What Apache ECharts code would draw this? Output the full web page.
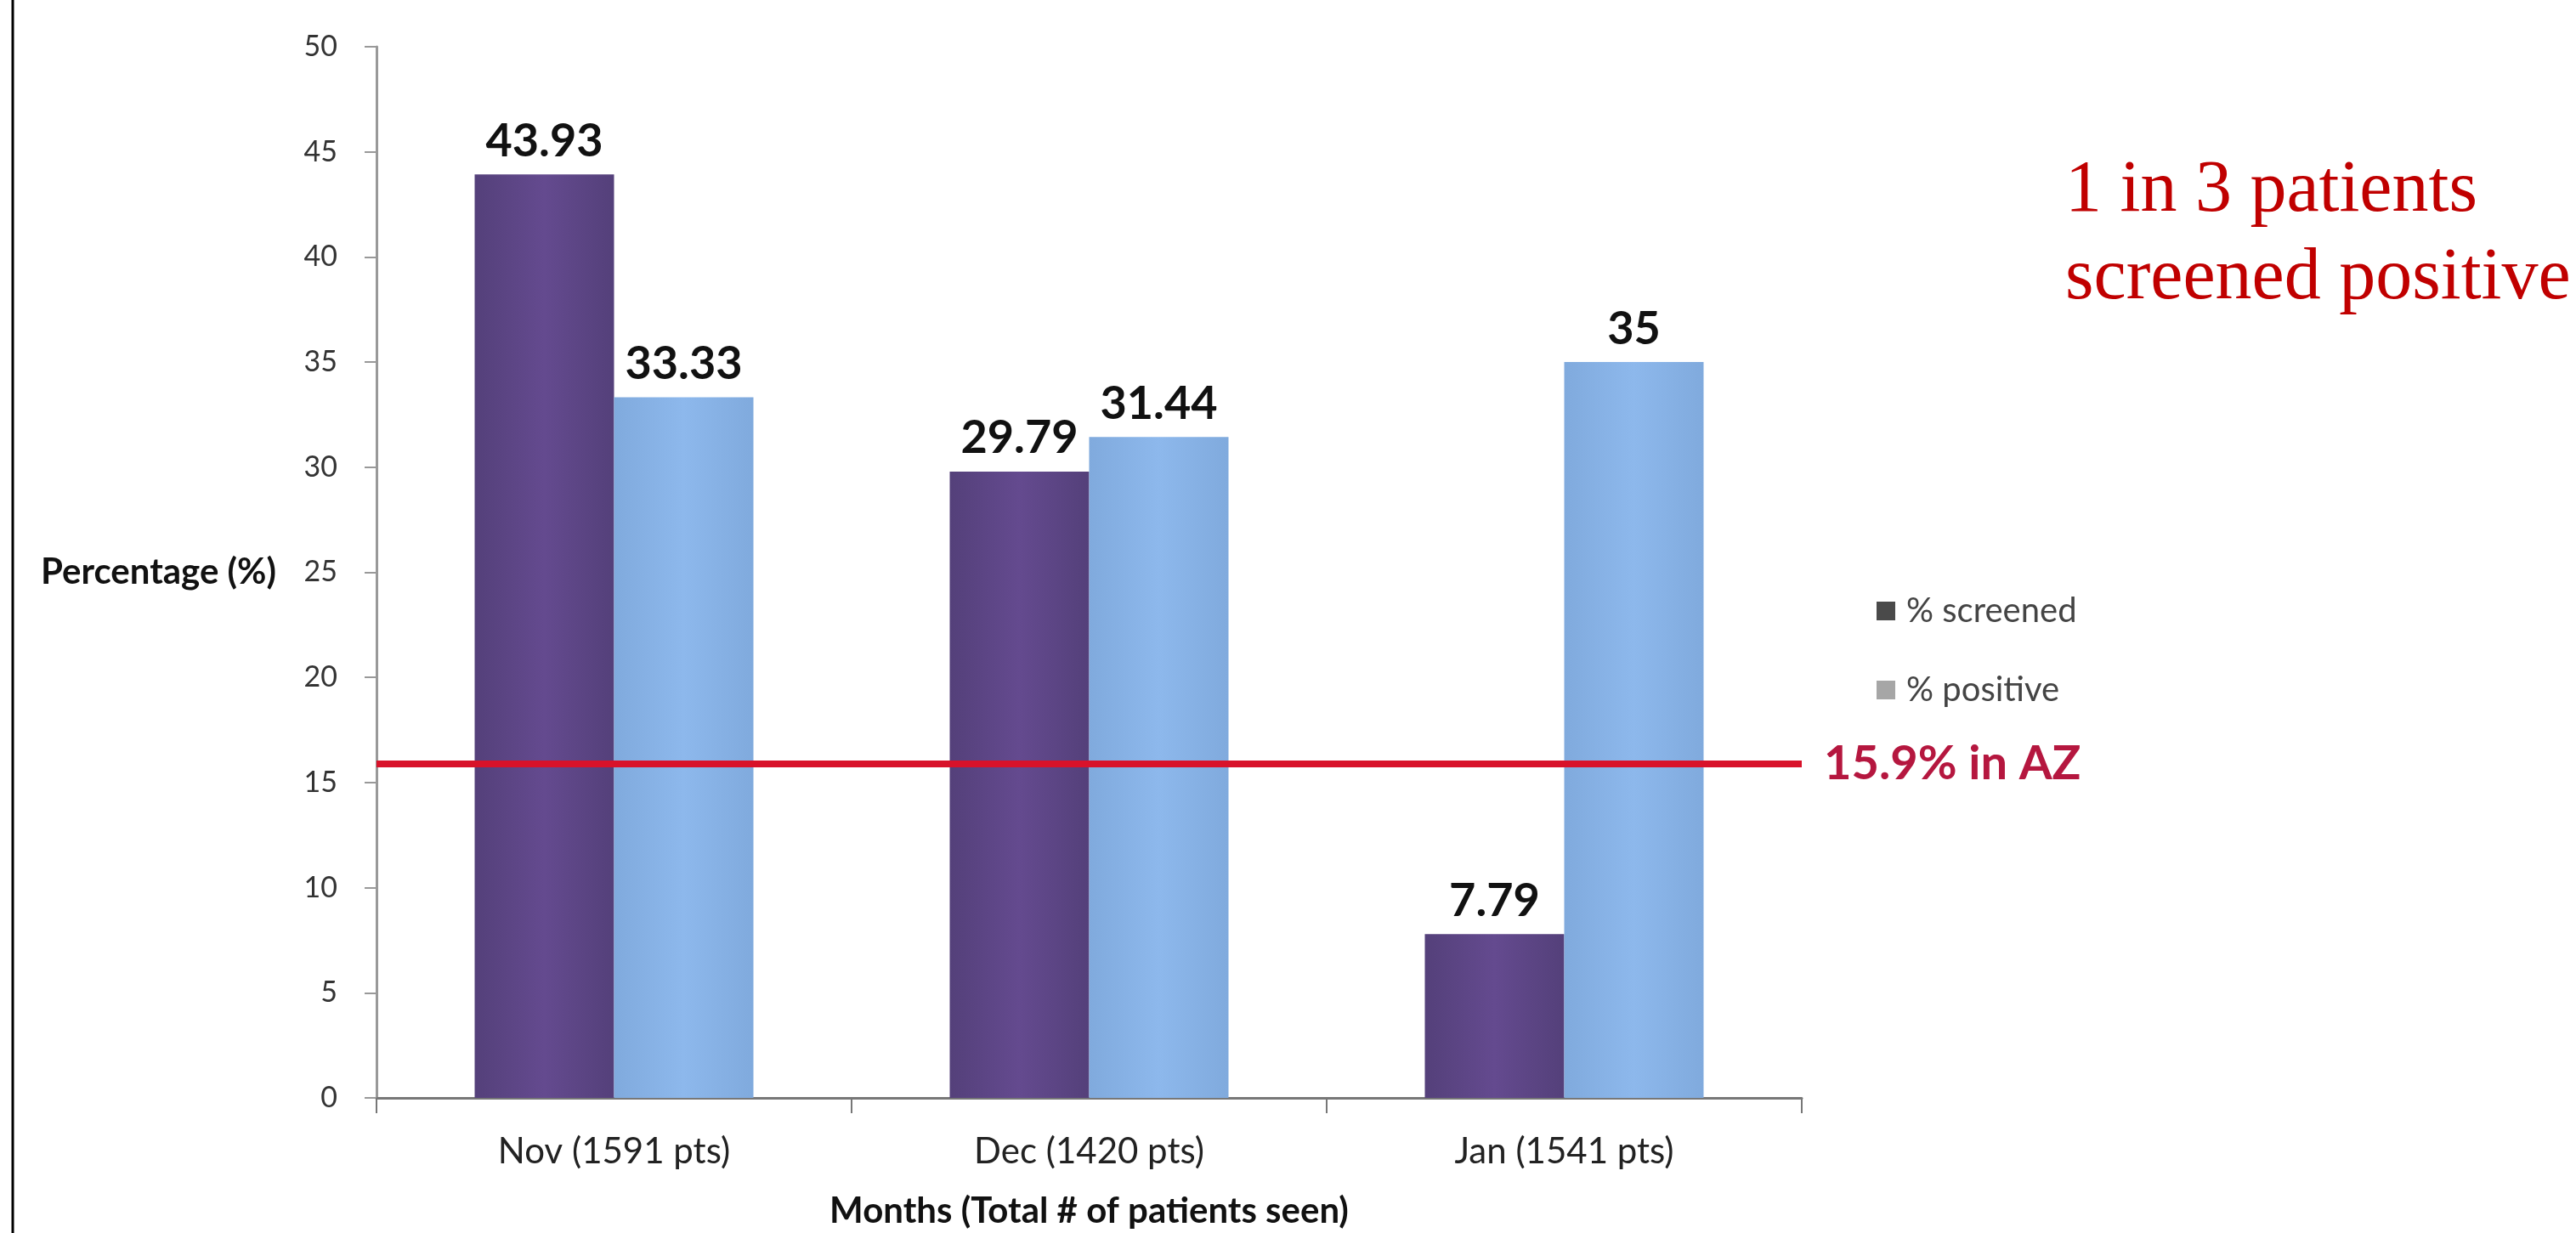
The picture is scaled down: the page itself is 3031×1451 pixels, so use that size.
<!DOCTYPE html>
<html><head><meta charset="utf-8">
<script src="https://cdn.jsdelivr.net/npm/echarts@6/dist/echarts.min.js"></script>
<style>html,body{margin:0;padding:0;background:#fff}#c{width:3031px;height:1451px}</style>
</head><body><div id="c"></div>
<script>
// ---- data ----
const categories = ['Nov (1591 pts)', 'Dec (1420 pts)', 'Jan (1541 pts)'];
const screenedValues = [43.93, 29.79, 7.79];
const positiveValues = [33.33, 31.44, 35];
const seriesNames = ['% screened', '% positive'];
const azRate = 15.9;
const azLabel = '15.9% in AZ';
const yMin = 0, yMax = 50, yInterval = 5;
const yAxisName = 'Percentage (%)';
const xAxisName = 'Months (Total # of patients seen)';
const noteLines = ['1 in 3 patients', 'screened positive'];

const FONT = "Lato, 'Carlito', 'Noto Sans', sans-serif";
const chart = echarts.init(document.getElementById('c'), null, {renderer: 'canvas'});

function grad(edge, mid) {
  return {type: 'linear', x: 0, y: 0, x2: 1, y2: 0,
    colorStops: [{offset: 0, color: edge}, {offset: 0.5, color: mid}, {offset: 1, color: edge}]};
}
const labelStyle = {show: true, position: 'top', distance: 12, color: '#111',
  fontFamily: FONT, fontWeight: 'bold', fontSize: 54};

chart.setOption({
  backgroundColor: '#ffffff',
  animation: false,
  grid: {left: 443, top: 55, width: 1677, height: 1240, containLabel: false},
  legend: {
    orient: 'vertical', left: 2203, top: 694, itemWidth: 22, itemHeight: 22, itemGap: 53,
    icon: 'rect',
    textStyle: {fontFamily: FONT, fontSize: 40, color: '#444', padding: [0, 0, 0, 8]},
    data: [
      {name: seriesNames[0], itemStyle: {color: '#4a4a4a'}},
      {name: seriesNames[1], itemStyle: {color: '#a6a6a6'}}
    ]
  },
  xAxis: {
    type: 'category', data: categories,
    axisLine: {show: true, lineStyle: {color: '#777', width: 3}},
    axisTick: {show: true, alignWithLabel: false, length: 18, lineStyle: {color: '#777', width: 2}},
    axisLabel: {fontFamily: FONT, fontSize: 42, color: '#222', margin: 42},
    name: xAxisName, nameLocation: 'middle', nameGap: 112,
    nameTextStyle: {fontFamily: FONT, fontSize: 42, fontWeight: 'bold', color: '#111'}
  },
  yAxis: {
    type: 'value', min: yMin, max: yMax, interval: yInterval,
    axisLine: {show: true, lineStyle: {color: '#999', width: 3}},
    axisTick: {show: true, length: 14, lineStyle: {color: '#999', width: 2}},
    splitLine: {show: false},
    axisLabel: {fontFamily: FONT, fontSize: 34, color: '#333', margin: 46},
    name: yAxisName, nameLocation: 'middle', nameRotate: 0, nameGap: 118,
    nameTextStyle: {fontFamily: FONT, fontSize: 42, fontWeight: 'bold', color: '#111',
      align: 'right', verticalAlign: 'middle', padding: [0, 0, 36, 0]}
  },
  series: [
    {
      name: seriesNames[0], type: 'bar', data: screenedValues,
      barWidth: 164, barGap: '0%',
      itemStyle: {color: grad('#54407a', '#644a8f')},
      label: labelStyle,
      markLine: {
        silent: true, symbol: ['none', 'none'],
        lineStyle: {color: '#d8122a', width: 8, type: 'solid'},
        label: {show: true, position: 'end', distance: 26, formatter: azLabel,
          fontFamily: FONT, fontWeight: 'bold', fontSize: 56, color: '#b5173f'},
        data: [{yAxis: azRate}]
      },
      z: 2
    },
    {
      name: seriesNames[1], type: 'bar', data: positiveValues,
      barWidth: 164, barGap: '0%',
      itemStyle: {color: grad('#80aadd', '#8db8ec')},
      label: labelStyle,
      z: 2
    }
  ],
  graphic: [
    {type: 'line', shape: {x1: 15, y1: 0, x2: 15, y2: 1451},
      style: {stroke: '#000', lineWidth: 3}},
    {type: 'text', left: 2430, top: 174,
      style: {text: noteLines.join('\n'), fill: '#c00000',
        font: "86px 'Liberation Serif', 'Times New Roman', serif", lineHeight: 103}}
  ]
});
</script>
</body></html>
